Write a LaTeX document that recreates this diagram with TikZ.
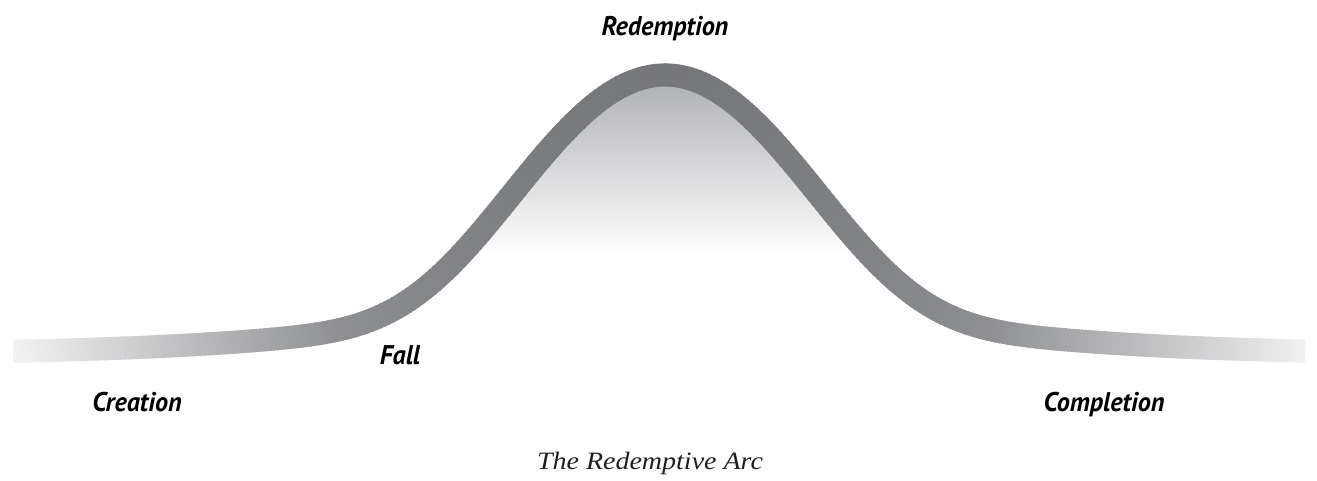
\documentclass[tikz,border=0pt]{standalone}
\usepackage{fontspec}
\newfontfamily\lblfont{PT Sans}[FakeStretch=0.97]
\newfontfamily\capfont{Liberation Serif}[FakeStretch=1.12]
\definecolor{bandcore}{RGB}{118,119,122}
\definecolor{archtop}{RGB}{178,179,182}
\definecolor{captcol}{RGB}{35,31,32}
\begin{document}
\begin{tikzpicture}[x=1pt,y=-1pt,
  declare function={arcy(\t)=355-250*exp(-min(9,0.245*(abs(\t-665)/100)^2+0.0126*(abs(\t-665)/100)^4))-30/(1+(abs(\t-665)/400)^4);},
  lbl/.style={font=\lblfont\bfseries\itshape\fontsize{27}{32}\selectfont, inner sep=0pt, anchor=base},
  captext/.style={font=\capfont\itshape\fontsize{25}{30}\selectfont, text=captcol, inner sep=0pt, anchor=base}]
\useasboundingbox (0,0) rectangle (1317,480);
% shading under the arch
\begin{scope}
  \clip plot[domain=420:910, samples=150] (\x, {arcy(\x)}) -- (910,300) -- (420,300) -- cycle;
  \shade[top color=archtop, bottom color=white] (420,86) rectangle (910,256);
\end{scope}
% the band, coloured piece by piece
\foreach \i in {0,...,322}{
  \pgfmathsetmacro\xa{max(13,13+4*\i-1)}
  \pgfmathsetmacro\xb{min(1305,13+4*\i+5)}
  \pgfmathsetmacro\xm{13+4*\i+2}
  \pgfmathsetmacro\dd{abs(\xm-665)}
  \pgfmathsetmacro\w{100*(\dd<=325 ? 1-0.18*pow(\dd/325,1.5) : 0.82-0.00225*(\dd-325))}
  \draw[line width=23pt, bandcore!\w!white] plot[domain=\xa:\xb, samples=3] (\x, {arcy(\x)});
}
\node[lbl] (creation) at (137,411) {Creation};
\node[lbl] (fall) at (400,364) {Fall};
\node[lbl] (redemption) at (665,35) {Redemption};
\node[lbl] (completion) at (1104,411) {Completion};
\node[captext] (caption) at (650,469) {The Redemptive Arc};
\end{tikzpicture}
\end{document}
